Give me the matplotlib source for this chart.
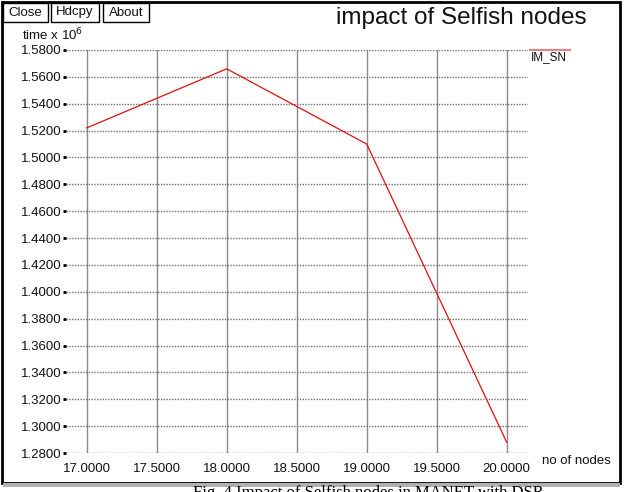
import matplotlib
matplotlib.use("Agg")
import matplotlib.pyplot as plt
from matplotlib.patches import Rectangle
from matplotlib.lines import Line2D

# ---- data ----
x_nodes = [17.0, 18.0, 19.0, 20.0]
time_vals = [1.522, 1.566, 1.510, 1.288]
x_ticks = [17.0, 17.5, 18.0, 18.5, 19.0, 19.5, 20.0]
y_ticks = [1.28, 1.30, 1.32, 1.34, 1.36, 1.38, 1.40, 1.42, 1.44, 1.46,
           1.48, 1.50, 1.52, 1.54, 1.56, 1.58]
series_name = "IM_SN"
title = "impact of Selfish nodes"
x_label = "no of nodes"
y_label = "time x 10$^6$"
buttons = ["Close", "Hdcpy", "About"]
caption = "Fig. 4 Impact of Selfish nodes in MANET with DSR"

W, H = 626, 492
plt.rcParams['font.family'] = ['Liberation Sans', 'DejaVu Sans']
fig = plt.figure(figsize=(W / 100, H / 100), dpi=100)


def fx(x):
    return x / W


def fy(y):
    return 1 - y / H


# axes geometry in pixels
ax_l, ax_r, ax_t, ax_b = 66, 528, 50, 453
ax = fig.add_axes([fx(ax_l), fy(ax_b), fx(ax_r - ax_l), (ax_b - ax_t) / H])
x17, px_per_unit = 86.7, 140.0
ax.set_xlim(17 - (x17 - ax_l) / px_per_unit, 20 + (ax_r - (x17 + 3 * px_per_unit)) / px_per_unit)
ax.set_ylim(1.28, 1.58)

for s in ax.spines.values():
    s.set_visible(False)

ax.set_xticks(x_ticks)
ax.set_xticklabels([f"{v:.4f}" for v in x_ticks], fontsize=9.5, color='#111111')
ax.set_yticks(y_ticks)
ax.set_yticklabels([f"{v:.4f}" for v in y_ticks], fontsize=9.5, color='#111111')
ax.tick_params(axis='x', length=0, pad=7)
ax.tick_params(axis='y', length=2.5, width=2, color='black', pad=1)

ax.grid(axis='x', color='#8a8a8a', linewidth=1.0, linestyle='-')
ax.grid(axis='y', color='#707070', linewidth=1.0, linestyle=(0, (1, 1)))
ax.set_axisbelow(True)

ax.plot(x_nodes, time_vals, color='#e01010', linewidth=0.9, clip_on=False)

# legend
fig.add_artist(Line2D([fx(530), fx(570)], [fy(50), fy(50)], color='#e88080', linewidth=1.5))
fig.text(fx(531), fy(57), series_name, fontsize=8.5, va='center', ha='left', color='#111111')

# labels
fig.text(fx(22), fy(35), y_label, fontsize=9.5, va='center', ha='left', color='#111111')
fig.text(fx(542), fy(461), x_label, fontsize=9.5, va='center', ha='left', color='#111111')
fig.text(fx(461), fy(18), title, fontsize=17.5, va='center', ha='center', color='#111111')

# buttons
btn_boxes = [(3, 48), (51, 99), (103, 149)]
for name, (x0, x1) in zip(buttons, btn_boxes):
    fig.add_artist(Rectangle((fx(x0), fy(22)), fx(x1 - x0), 19 / H, fill=False,
                             edgecolor='black', linewidth=1.0))
    fig.text(fx((x0 + x1) / 2), fy(12.5), name, fontsize=9.5, ha='center', va='center', color='#111111')

# window frame
fig.add_artist(Rectangle((fx(2), fy(483)), fx(618), 481 / H, fill=False,
                         edgecolor='black', linewidth=2))
fig.add_artist(Rectangle((fx(3), fy(487)), fx(617), 4 / H, facecolor='#b0b0b0',
                         edgecolor='none'))

# caption (cut off at the bottom of the image, as in the reference)
fig.text(fx(193), fy(485), caption, fontsize=12, ha='left', va='top',
         family=['Liberation Serif', 'DejaVu Serif'], color='black')

fig.savefig("out.png", dpi=100)
